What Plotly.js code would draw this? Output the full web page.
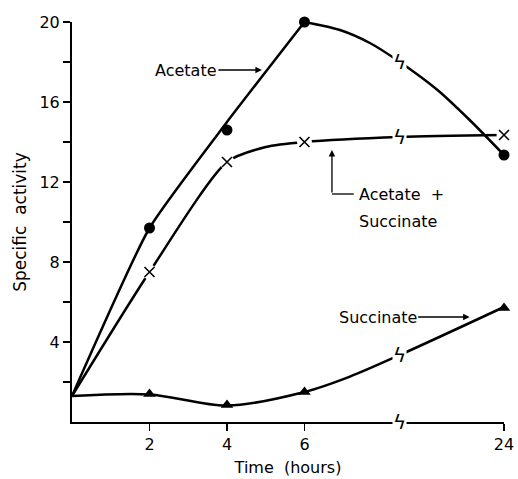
<!DOCTYPE html>
<html>
<head>
<meta charset="utf-8">
<script src="https://cdn.plot.ly/plotly-3.0.1.min.js"></script>
<style>html,body{margin:0;padding:0;background:#fff;}#chart{width:518px;height:479px;}</style>
</head>
<body>
<div id="chart"></div>
<script>
// ---- data ----
const hours = [0, 2, 4, 6, 24];
const acetate = [1.3, 9.7, 14.6, 20.0, 13.35];
const acetateSuccinate = [1.3, 7.5, 13.0, 14.0, 14.35];
const succinate = [1.3, 1.4, 0.85, 1.5, 5.7];

// hand-drawn curves (hours, value)
const breakHour = 14.6;
const acetateRiseHours = [0, 2, 4, 6];
const acetateRise = [1.3, 9.7, 15.0, 20.0];
const acetateFallHours = [6, 9.2, 11.9, 14.6, 18.0, 20.9, 24];
const acetateFall = [20.0, 19.6, 18.95, 18.0, 16.6, 15.1, 13.35];
const acetateSuccinateCurveHours = [0, 2, 4, 5, 6, 14.6, 24];
const acetateSuccinateCurve = [1.3, 7.5, 13.0, 13.75, 14.0, 14.25, 14.35];
const succinateCurveHours = [0, 2, 4, 6, 10.1, 14.6, 24];
const succinateCurve = [1.3, 1.38, 0.82, 1.5, 2.27, 3.35, 5.75];

const xTickHours = [2, 4, 6, 24];
const xTickLabels = ['2', '4', '6', '24'];
const yTickVals = [2, 4, 6, 8, 10, 12, 14, 16, 18, 20];
const yTickLabels = ['', '4', '', '8', '', '12', '', '16', '', '20'];

// broken time axis: 0-6 h linear, 6-24 h compressed
function xPos(h) { return h <= 6 ? h : 6 + (h - 6) * (5.15 / 18); }

const FONT = 'DejaVu Sans, Verdana, sans-serif';
const BLACK = '#000';
const markIdx = [1, 2, 3, 4];
const mh = markIdx.map(i => xPos(hours[i]));

function curve(hs, vals, shape, smoothing) {
  return {x: hs.map(xPos), y: vals, mode: 'lines', cliponaxis: false,
    line: {shape: shape, smoothing: smoothing, color: BLACK, width: 2.5}, hoverinfo: 'skip'};
}

const traces = [
  curve(acetateSuccinateCurveHours, acetateSuccinateCurve, 'spline', 0.7),
  {x: mh, y: markIdx.map(i => acetateSuccinate[i]), mode: 'markers', cliponaxis: false,
   marker: {symbol: 'circle', size: 15, color: '#fff'}, hoverinfo: 'skip'},
  curve(acetateRiseHours, acetateRise, 'spline', 0.5),
  curve(acetateFallHours, acetateFall, 'spline', 0.8),
  curve(succinateCurveHours, succinateCurve, 'spline', 0.9),
  {x: mh, y: markIdx.map(i => acetate[i]), mode: 'markers', name: 'Acetate', cliponaxis: false,
   marker: {symbol: 'circle', size: 11, color: BLACK}},
  {x: mh, y: markIdx.map(i => acetateSuccinate[i]), mode: 'markers', name: 'Acetate + Succinate', cliponaxis: false,
   marker: {symbol: 'x-thin-open', size: 10, color: BLACK, line: {color: BLACK, width: 1.6}}},
  {x: mh, y: markIdx.map(i => succinate[i]), mode: 'markers', name: 'Succinate', cliponaxis: false,
   marker: {symbol: 'triangle-up', size: 11, color: BLACK}}
];

const bx = xPos(breakHour);
function brk(y) {
  return {x: bx, y: y, xref: 'x', yref: 'y', text: 'ϟ', showarrow: false,
    font: {family: 'DejaVu Sans', size: 20, color: BLACK}, bgcolor: '#fff', borderpad: 0};
}

const layout = {
  width: 518, height: 479,
  margin: {l: 72, r: 14, t: 22, b: 57},
  paper_bgcolor: '#fff', plot_bgcolor: '#fff',
  showlegend: false,
  font: {family: FONT, color: BLACK, size: 16},
  xaxis: {
    range: [0, xPos(24)], showgrid: false, zeroline: false,
    showline: true, linecolor: BLACK, linewidth: 2,
    ticks: 'outside', ticklen: 7, tickwidth: 1.5, tickcolor: BLACK,
    tickvals: xTickHours.map(xPos), ticktext: xTickLabels,
    tickfont: {family: FONT, size: 16, color: BLACK},
    title: {text: 'Time  (hours)', font: {family: FONT, size: 16, color: BLACK}, standoff: 9}
  },
  yaxis: {
    range: [0, 20], showgrid: false, zeroline: false,
    showline: true, linecolor: BLACK, linewidth: 2,
    ticks: 'outside', ticklen: 7, tickwidth: 1.5, tickcolor: BLACK,
    tickvals: yTickVals, ticktext: yTickLabels,
    tickfont: {family: FONT, size: 16, color: BLACK},
    title: {text: 'Specific  activity', font: {family: FONT, size: 17, color: BLACK}, standoff: 8}
  },
  annotations: [
    {x: xPos(4.9), y: 17.6, xref: 'x', yref: 'y', text: 'Acetate', showarrow: true,
     ax: -76, ay: 0, arrowhead: 2, arrowsize: 1, arrowwidth: 1.3, arrowcolor: BLACK,
     font: {family: FONT, size: 16, color: BLACK}},
    {x: xPos(20.9), y: 5.25, xref: 'x', yref: 'y', text: 'Succinate', showarrow: true,
     ax: -92, ay: 0, arrowhead: 2, arrowsize: 1, arrowwidth: 1.3, arrowcolor: BLACK,
     font: {family: FONT, size: 16, color: BLACK}},
    {x: xPos(8.48), y: 13.6, xref: 'x', yref: 'y', text: '', showarrow: true,
     axref: 'x', ayref: 'y', ax: xPos(8.48), ay: 11.4,
     arrowhead: 2, arrowsize: 1, arrowwidth: 1.3, arrowcolor: BLACK},
    {x: xPos(10.7), y: 11.4, xref: 'x', yref: 'y', text: 'Acetate  +', showarrow: false,
     xanchor: 'left', yanchor: 'middle', font: {family: FONT, size: 16, color: BLACK}},
    {x: xPos(10.7), y: 10.05, xref: 'x', yref: 'y', text: 'Succinate', showarrow: false,
     xanchor: 'left', yanchor: 'middle', font: {family: FONT, size: 16, color: BLACK}},
    brk(18.0), brk(14.25), brk(3.35), brk(0)
  ],
  shapes: [
    {type: 'line', xref: 'x', yref: 'y', x0: xPos(8.48), x1: xPos(10.45), y0: 11.4, y1: 11.4,
     line: {color: BLACK, width: 1.3}}
  ]
};

Plotly.newPlot('chart', traces, layout, {displayModeBar: false, staticPlot: true});
</script>
</body>
</html>
